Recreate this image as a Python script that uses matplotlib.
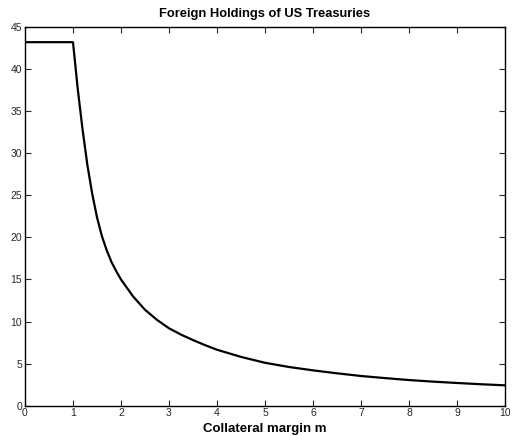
import matplotlib
matplotlib.use("Agg")
import matplotlib.pyplot as plt

# Collateral margin and the resulting foreign holdings of US Treasuries
margin = [0.0, 1.0, 1.1, 1.2, 1.3, 1.4, 1.5, 1.6, 1.7, 1.8, 1.9, 2.0,
          2.25, 2.5, 2.75, 3.0, 3.25, 3.5, 3.75, 4.0, 4.5, 5.0, 5.5,
          6.0, 6.5, 7.0, 7.5, 8.0, 8.5, 9.0, 9.5, 10.0]
holdings = [43.2, 43.2, 37.6, 32.8, 28.6, 25.2, 22.4, 20.2, 18.5, 17.1, 16.0, 15.0,
            13.0, 11.4, 10.2, 9.2, 8.45, 7.8, 7.2, 6.65, 5.8, 5.1, 4.6,
            4.2, 3.85, 3.53, 3.28, 3.05, 2.86, 2.7, 2.55, 2.42]

x_ticks = list(range(0, 11))
y_ticks = list(range(0, 46, 5))

plt.rcParams["font.family"] = ["Liberation Sans", "DejaVu Sans"]

fig = plt.figure(figsize=(5.12, 4.36), dpi=100)
ax = fig.add_axes([0.0488, 0.0695, 0.9375, 0.8685])

ax.plot(margin, holdings, color="black", linewidth=1.6)

ax.set_xlim(0, 10)
ax.set_ylim(0, 45)
ax.set_xticks(x_ticks)
ax.set_yticks(y_ticks)
ax.tick_params(direction="in", length=4, width=0.8, labelsize=7.5,
               top=True, right=True, colors="#262626", labelcolor="#262626",
               pad=2)
for s in ax.spines.values():
    s.set_linewidth(1.0)
    s.set_color("black")

ax.set_title("Foreign Holdings of US Treasuries", fontsize=9.3,
             fontweight="bold", pad=7)
ax.set_xlabel("Collateral margin m", fontsize=9.5, fontweight="bold",
              labelpad=3)

fig.savefig("out.png", dpi=100)
